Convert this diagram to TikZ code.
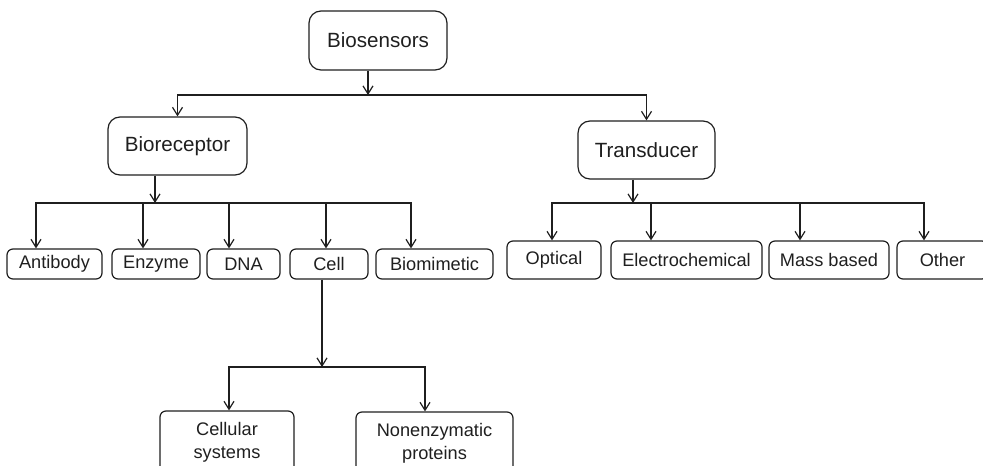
\documentclass[tikz,border=0pt]{standalone}
\usepackage{fontspec}
\setmainfont{Liberation Sans}
\usetikzlibrary{arrows.meta}

\begin{document}
\begin{tikzpicture}[x=0.5pt, y=-0.5pt, line width=0.6pt, black!88]
    \tikzstyle{big} = [rectangle, draw, rounded corners=6pt, inner sep=0pt, font=\fontsize{10.3}{12}\selectfont]
    \tikzstyle{small} = [rectangle, draw, rounded corners=3pt, inner sep=0pt, align=center, font=\fontsize{9.1}{11.3}\selectfont]
    \tikzstyle{line} = [draw, -{Straight Barb[length=4pt,width=5pt]}]

    \useasboundingbox (0,0) rectangle (983,465);
    \clip (0,0) rectangle (983,465);

    \node [big, minimum width=69pt, minimum height=29.5pt] (bios) at (378,40.5) {Biosensors};
    \node [big, minimum width=69.5pt, minimum height=29pt] (bior) at (177.5,146) {Bioreceptor};
    \node [big, minimum width=68.5pt, minimum height=29pt] (trans) at (646.5,150) {Transducer};

    % bioreceptor types
    \node [small, minimum width=47.5pt, minimum height=15pt] (anti) at (54.5,264) {Antibody};
    \node [small, minimum width=44pt, minimum height=15pt] (enz) at (156,264) {Enzyme};
    \node [small, minimum width=36.5pt, minimum height=15pt] (dna) at (243.5,264) {DNA};
    \node [small, minimum width=39pt, minimum height=15pt] (cell) at (329,264) {Cell};
    \node [small, minimum width=58.5pt, minimum height=15pt] (bmim) at (434.5,264) {Biomimetic};

    % transducer types
    \node [small, minimum width=47pt, minimum height=19pt] (opt) at (554,260) {Optical};
    \node [small, minimum width=75.5pt, minimum height=19pt] (elec) at (686.5,260) {Electrochemical};
    \node [small, minimum width=60pt, minimum height=19pt] (mass) at (829,260) {Mass based};
    \node [small, minimum width=45.5pt, minimum height=19pt] (oth) at (942.5,260) {Other};

    % cell types
    \node [small, minimum width=67pt, minimum height=31pt] (csys) at (227,442) {Cellular\\systems};
    \node [small, minimum width=78.5pt, minimum height=31pt] (nonenz) at (434.5,443) {Nonenzymatic\\proteins};

    \coordinate (j1) at (368,95);
    \coordinate (j2) at (155,203);
    \coordinate (j3) at (633,203);
    \coordinate (j4) at (322,367);

    \path [line] (bios.south -| j1) -- (j1);
    \path [line] (j1) -| (bior.north);
    \path [line] (j1) -| (trans.north);

    \path [line] (bior.south -| j2) -- (j2);
    \foreach \n/\d in {anti/-9.25, enz/-6.5, dna/-7.25, cell/-1.5, bmim/-11.75}
        \path [line] (j2) -| ([xshift=\d pt]\n.north);

    \path [line] (trans.south -| j3) -- (j3);
    \foreach \n/\d in {opt/-1, elec/-17.75, mass/-14.5, oth/-9.25}
        \path [line] (j3) -| ([xshift=\d pt]\n.north);

    \path [line] (cell.south -| j4) -- (j4);
    \path [line] (j4) -| ([xshift=1pt]csys.north);
    \path [line] (j4) -| ([xshift=-4.75pt]nonenz.north);
\end{tikzpicture}
\end{document}
